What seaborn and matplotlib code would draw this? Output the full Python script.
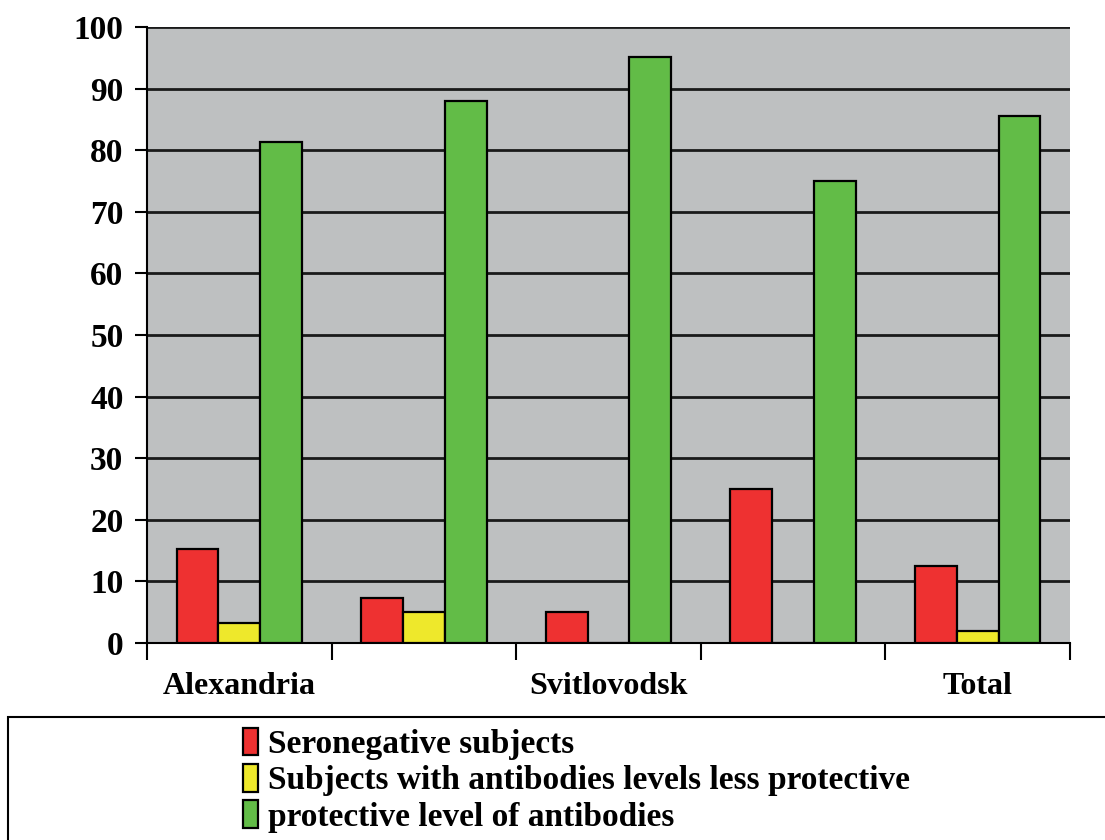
import matplotlib
matplotlib.use("Agg")
import matplotlib.pyplot as plt
from matplotlib.patches import Rectangle
from matplotlib.ticker import FixedLocator, NullFormatter
import seaborn as sns
import pandas as pd

# Share of subjects (%) by antibody status in each group
groups = ["Alexandria", "Group 2", "Svitlovodsk", "Group 4", "Total"]
group_labels = ["Alexandria", "", "Svitlovodsk", "", "Total"]
seronegative = [15.3, 7.3, 5.0, 25.0, 12.5]
less_protective = [3.2, 5.0, 0.0, 0.0, 1.9]
protective = [81.3, 88.0, 95.1, 75.0, 85.5]
series_names = [
    "Seronegative subjects",
    "Subjects with antibodies levels less protective",
    "protective level of antibodies",
]
y_ticks = list(range(0, 101, 10))

rows = []
for name, values in zip(series_names, [seronegative, less_protective, protective]):
    for g, v in zip(groups, values):
        rows.append({"group": g, "series": name, "value": v})
df = pd.DataFrame(rows)

sns.set_theme(style="white")
plt.rcParams["font.family"] = ["Liberation Serif", "DejaVu Serif"]
plt.rcParams["font.weight"] = "bold"
plt.rcParams["text.color"] = "black"
plt.rcParams["xtick.color"] = "black"
plt.rcParams["ytick.color"] = "black"
plt.rcParams["xtick.labelcolor"] = "black"
plt.rcParams["ytick.labelcolor"] = "black"

fig = plt.figure(figsize=(11.05, 8.4), dpi=100)
ax = fig.add_axes([147 / 1105, 1 - 643 / 840, (1070 - 147) / 1105, (643 - 27) / 840])

palette = {series_names[0]: "#EE3131", series_names[1]: "#EEE82B", series_names[2]: "#62BC47"}
sns.barplot(data=df, x="group", y="value", hue="series", order=groups,
            hue_order=series_names, palette=palette, width=0.68, gap=0,
            edgecolor="black", linewidth=1.6, saturation=1, ax=ax, zorder=3)

ax.set_facecolor("#BEC0C1")
ax.set_xlim(-0.5, len(groups) - 0.5)
ax.set_ylim(0, 100)
ax.set_yticks(y_ticks)
ax.set_yticklabels([str(t) for t in y_ticks], fontsize=24, fontweight="bold", color="black")
ax.yaxis.grid(True, color="#1a1a1a", linewidth=2)
ax.set_axisbelow(True)

# Tick marks sit between groups; labels sit under group centres
ax.xaxis.set_major_locator(FixedLocator([i - 0.5 for i in range(len(groups) + 1)]))
ax.xaxis.set_major_formatter(NullFormatter())
ax.xaxis.set_minor_locator(FixedLocator(list(range(len(groups)))))
ax.set_xticklabels(group_labels, minor=True, fontsize=23, fontweight="bold", color="black")
ax.tick_params(axis="x", which="major", length=12, width=1.5, color="black", direction="out", bottom=True)
ax.tick_params(axis="x", which="minor", length=0, pad=21)
ax.tick_params(axis="y", length=9, width=1.5, color="black", direction="out", left=True, pad=8)
ax.set_xlabel("")
ax.set_ylabel("")

for side in ["top", "right"]:
    ax.spines[side].set_visible(False)
for side in ["left", "bottom"]:
    ax.spines[side].set_color("black")
    ax.spines[side].set_linewidth(1.5)

handles, labels = ax.get_legend_handles_labels()
ax.get_legend().remove()
fig.legend(handles, labels, loc="upper left", bbox_to_anchor=(226 / 1105, 1 - 711 / 840),
           frameon=False, handlelength=0.45, handleheight=0.9, handletextpad=0.3,
           labelspacing=0.12, borderpad=0,
           prop={"family": "Liberation Serif", "weight": "bold", "size": 24})

fig.patches.append(Rectangle((8 / 1105, -0.05), 1.1, (840 - 717) / 840 + 0.05,
                             transform=fig.transFigure, fill=False,
                             edgecolor="black", linewidth=1.5))

fig.savefig("out.png", dpi=100)
